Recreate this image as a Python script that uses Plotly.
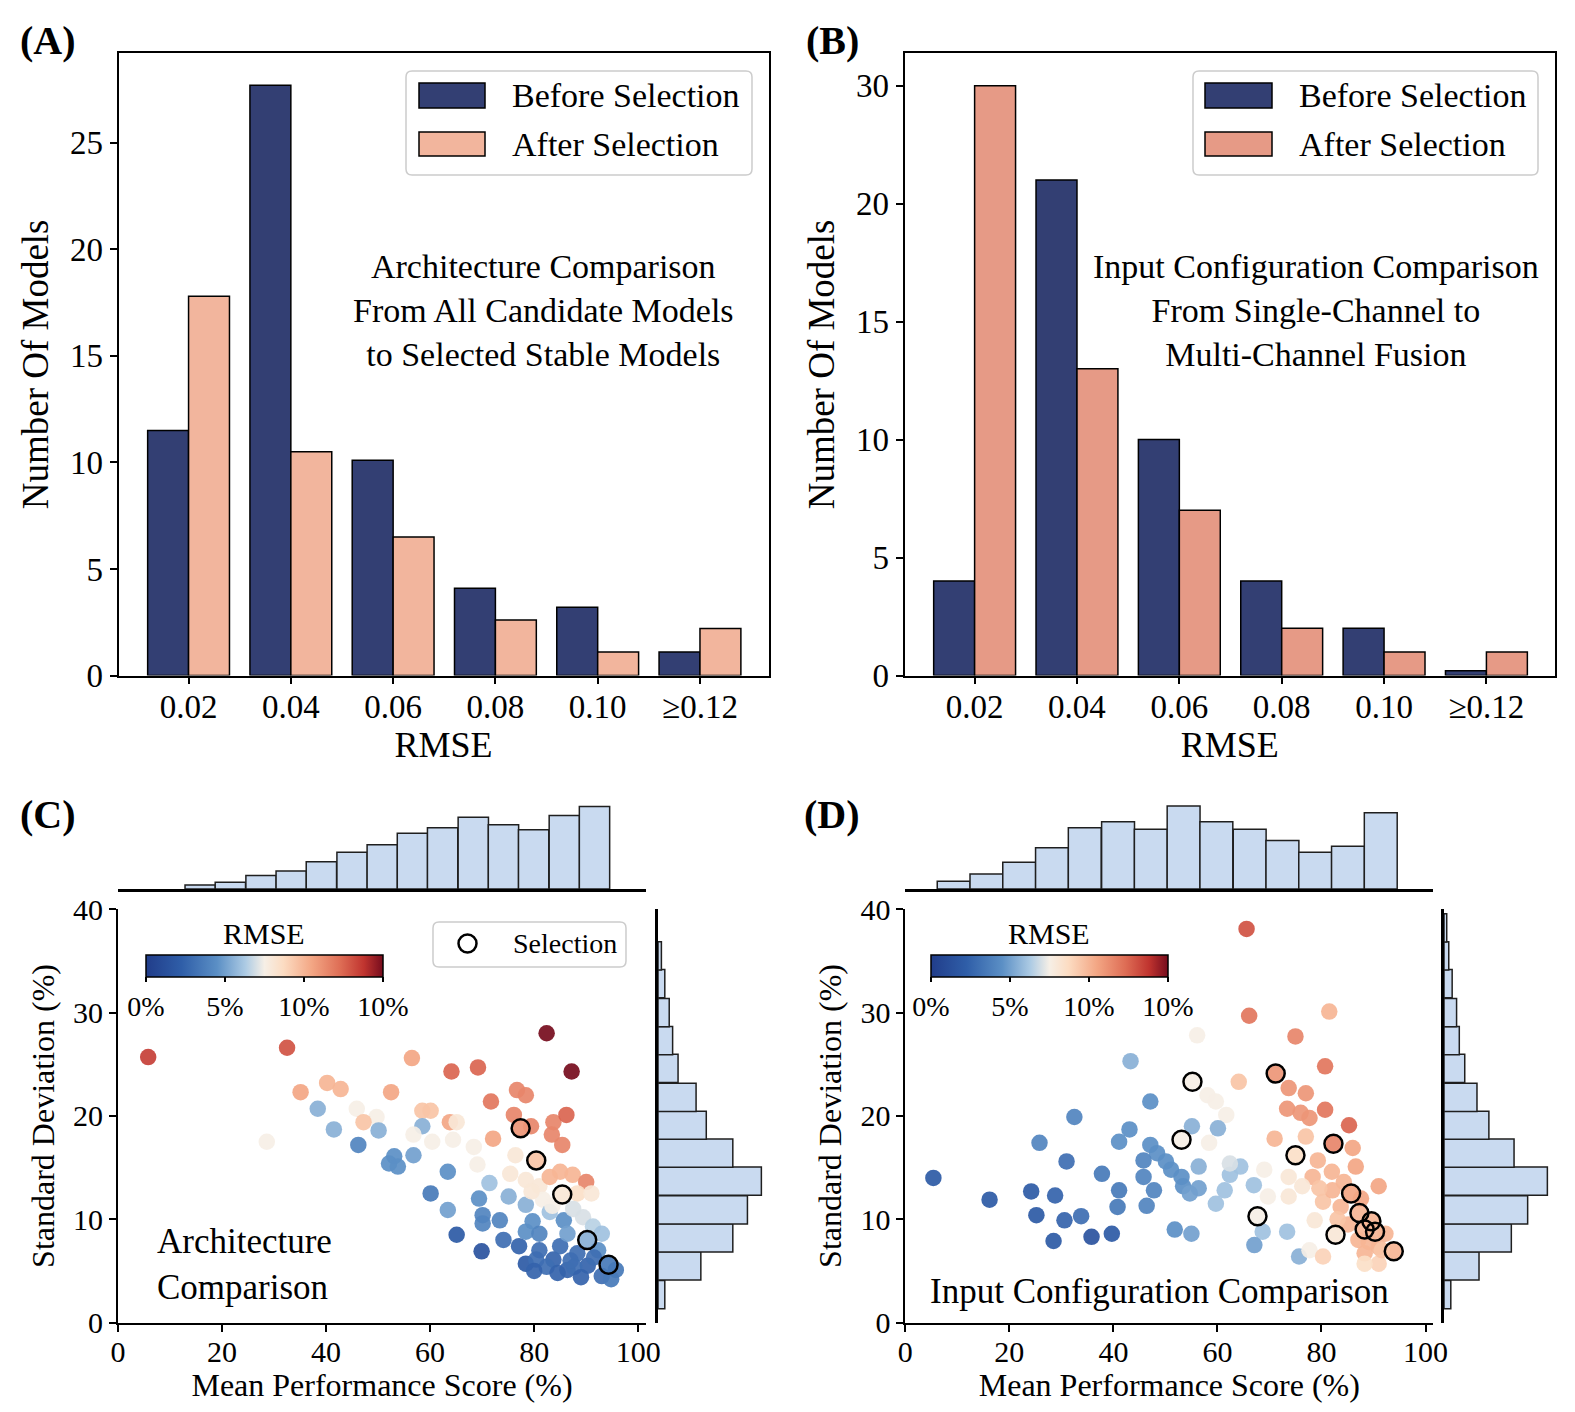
import plotly.graph_objects as go

W, H = 1575, 1412

# ---- bar charts (A, B) ----
rmse_bins = ['0.02', '0.04', '0.06', '0.08', '0.10', '≥0.12']
a_before = [11.5, 27.7, 10.1, 4.1, 3.2, 1.1]
a_after = [17.8, 10.5, 6.5, 2.6, 1.1, 2.2]
b_before = [4, 21, 10, 4, 2, 0.2]
b_after = [25, 13, 7, 2, 1, 1]
a_yticks = [0, 5, 10, 15, 20, 25]
b_ytick_vals = [0, 5, 10, 15, 20, 25]
b_ytick_text = ['0', '5', '10', '15', '20', '30']

# ---- scatter C: architecture comparison ----
c_x = [5.8, 32.5, 56.5, 64.1, 69.2, 82.4, 87.2, 35.1, 40.2, 42.8, 52.5, 38.4, 45.9, 49.7, 47.2,
       41.5, 50.1, 28.6, 46.2, 58.5, 60.1, 58.5, 63.8, 65.1, 56.8, 60.4, 64.4, 68.4, 69.1, 71.7,
       72.1, 76.7, 78.4, 76.1, 79.4, 83.7, 86.2, 83.4, 85.4, 77.4, 76.4, 80.4, 75.4, 78.4, 81.0,
       83.0, 85.0, 87.4, 90.0, 85.4, 88.3, 91.0, 81.7, 53.1, 52.1, 53.8, 56.8, 63.4, 60.1, 63.4,
       65.1, 69.9, 69.4, 71.4, 70.1, 70.1, 73.4, 74.1, 77.1, 75.1, 78.4, 79.7, 78.4, 81.0, 83.0,
       85.7, 89.4, 91.3, 90.2, 78.4, 81.0, 83.7, 86.4, 85.0, 88.3, 90.3, 93.0, 94.3, 95.7, 87.7,
       82.4, 80.4, 92.3, 86.4, 93.0, 84.5, 89.0, 91.5, 94.8, 87.0, 80.0, 83.5, 87.5, 79.5]
c_y = [25.7, 26.6, 25.6, 24.3, 24.7, 28.0, 24.3, 22.3, 23.2, 22.6, 22.3, 20.7, 20.7, 19.9, 19.4,
       18.7, 18.6, 17.5, 17.2, 20.5, 20.5, 19.0, 19.4, 19.4, 18.2, 17.5, 17.7, 17.0, 15.3, 21.4,
       17.8, 22.5, 22.0, 20.1, 19.0, 19.4, 20.1, 18.2, 17.2, 18.8, 16.2, 15.7, 14.4, 13.8, 13.2,
       14.1, 14.6, 14.3, 13.6, 12.4, 12.5, 12.5, 11.9, 16.1, 15.4, 15.1, 16.2, 14.6, 12.5, 10.9,
       8.5, 6.9, 12.0, 13.5, 10.4, 9.6, 9.9, 8.0, 7.4, 12.2, 11.4, 9.8, 8.8, 8.6, 10.7,
       9.9, 10.2, 9.3, 8.0, 5.7, 7.0, 6.1, 5.1, 7.4, 6.7, 5.5, 4.5, 5.6, 5.1, 5.4,
       5.4, 6.1, 7.0, 8.6, 8.6, 4.8, 4.4, 6.3, 4.2, 6.0, 5.0, 11.3, 11.0, 12.7]
c_rmse = [13.5, 13, 10.5, 12.5, 12.5, 15, 15, 10.5, 10, 10, 10.5, 5.5, 7.5, 7.5, 9.5,
          5.5, 5.5, 7.5, 4, 9.5, 9.5, 5.5, 10.5, 8, 7.5, 7.5, 7.5, 7.5, 7.5, 12,
          10.5, 11.5, 11.5, 11.5, 11.5, 11.5, 12.5, 11.5, 11.5, 11, 8, 9.5, 8, 8, 8,
          10, 10, 10, 11.5, 8, 8.5, 8, 7.5, 4.5, 4.5, 4.5, 5, 4.5, 3.5, 5,
          2, 1.5, 4.5, 6, 4, 4, 4, 3, 2.5, 5.5, 5.5, 4.5, 4.5, 4, 6,
          4.5, 7, 6.5, 5.5, 2, 3, 2.5, 2.5, 3, 3, 2.5, 3, 3.5, 3.5, 3,
          3, 3, 4.5, 5, 6, 2.5, 2.5, 3, 3.5, 3, 2.5, 7.5, 7, 8]
c_sel_x = [77.4, 80.4, 85.4, 90.2, 94.3]
c_sel_y = [18.8, 15.7, 12.4, 8.0, 5.6]

# ---- scatter D: input configuration comparison ----
d_x = [65.6, 66.1, 81.5, 75.0, 80.7, 56.1, 43.3, 55.2, 64.1, 71.2, 58.1, 59.7, 61.7, 47.1, 32.5,
       73.7, 77.0, 73.4, 76.0, 77.7, 80.7, 85.3, 71.0, 77.0, 82.3, 86.0, 75.0, 79.3, 86.6, 78.3,
       82.0, 84.3, 85.7, 91.0, 87.3, 89.6, 90.3, 88.3, 93.9, 82.7, 67.7, 80.3, 83.7, 92.3, 91.0,
       88.3, 91.0, 88.3, 76.3, 78.7, 73.7, 73.7, 69.0, 69.7, 67.0, 64.4, 62.4, 61.4, 59.7, 62.4,
       58.4, 56.4, 60.1, 55.1, 53.1, 68.7, 67.1, 73.4, 75.7, 77.7, 43.1, 41.1, 47.1, 48.4, 50.1,
       51.1, 53.1, 53.4, 54.7, 56.4, 45.8, 45.8, 47.8, 46.4, 41.1, 40.8, 37.8, 25.8, 31.0, 28.8,
       24.2, 25.2, 30.6, 33.8, 28.5, 35.8, 39.7, 51.8, 55.0, 16.2, 5.4, 80.3, 87.1, 85.1, 83.1,
       89.1, 91.6, 87.6, 82.1, 79.6]
d_y = [38.1, 29.7, 30.1, 27.7, 24.8, 27.8, 25.3, 23.3, 23.3, 24.1, 22.0, 21.4, 20.1, 21.4, 19.9,
       22.7, 22.2, 20.7, 20.3, 19.8, 20.6, 19.1, 17.8, 18.0, 17.3, 16.9, 16.2, 15.7, 15.1, 14.1,
       14.6, 13.6, 12.5, 13.2, 10.6, 9.8, 8.8, 9.0, 6.9, 8.5, 10.3, 11.7, 11.2, 8.6, 7.3,
       6.7, 5.7, 5.7, 13.2, 9.9, 12.2, 14.1, 14.8, 12.2, 13.3, 15.1, 14.3, 12.8, 11.5, 15.4,
       17.4, 15.1, 18.8, 19.0, 17.7, 8.8, 7.5, 8.8, 6.4, 7.0, 18.7, 17.5, 17.2, 16.4, 15.6,
       14.8, 14.1, 13.2, 12.5, 13.0, 15.7, 14.1, 12.8, 11.3, 12.8, 11.2, 14.4, 17.4, 15.6, 12.3,
       12.7, 10.4, 9.9, 10.3, 7.9, 8.3, 8.6, 9.0, 8.6, 11.9, 14.0, 6.4, 8.0, 9.5, 10.0,
       7.8, 7.0, 12.0, 12.8, 13.0]
d_rmse = [13, 12, 10, 11.5, 12, 7.5, 5.5, 7.5, 9.5, 11, 7.5, 7.5, 7.5, 4.5, 4,
          11, 11, 11, 11, 11, 12, 12.5, 10, 9.5, 11.5, 10.5, 8.5, 10, 10.5, 10,
          10, 10, 10.5, 10.5, 10, 10, 10, 10, 10, 8, 7.5, 9.5, 10, 10, 10,
          10, 9, 8.5, 8, 8, 8, 8, 7.5, 7.5, 6, 6, 6, 6, 6, 7,
          7.5, 5.5, 5.5, 5.5, 7.5, 6, 5, 6, 5.5, 7.5, 4.5, 4.5, 4.5, 4.5, 4.5,
          4.5, 4.5, 4.5, 5, 5, 4, 4, 4, 4, 3.5, 3.5, 3.5, 4, 3, 2.5,
          2, 2, 2.5, 3, 2, 1.5, 2, 4.5, 5, 2, 2, 9, 10, 10, 9.5,
          10, 9.5, 10.5, 10, 9.5]
d_sel_x = [71.2, 55.2, 82.3, 75.0, 85.7, 87.3, 89.6, 90.3, 88.3, 93.9, 82.7, 67.7, 53.1]
d_sel_y = [24.1, 23.3, 17.3, 16.2, 12.5, 10.6, 9.8, 8.8, 9.0, 6.9, 8.5, 10.3, 17.7]

# ---- marginal histograms ----
c_top_centers = [15.8, 21.6, 27.5, 33.3, 39.1, 45.0, 50.8, 56.6, 62.4, 68.3, 74.1, 79.9, 85.8, 91.6]
c_top_counts = [1.2, 2.0, 4.0, 5.3, 8.0, 10.8, 13.0, 16.4, 18.0, 21.1, 18.9, 17.4, 21.6, 24.3]
d_top_centers = [9.3, 15.6, 21.9, 28.2, 34.5, 40.9, 47.2, 53.5, 59.8, 66.2, 72.5, 78.8, 85.1, 91.4]
d_top_counts = [2.3, 4.4, 7.9, 12.1, 18.0, 19.8, 17.6, 24.4, 19.8, 17.6, 14.3, 10.8, 12.6, 22.4]
side_centers = [2.7, 5.5, 8.2, 10.9, 13.7, 16.4, 19.1, 21.8, 24.6, 27.3, 30.0, 32.8, 35.5, 38.2]
c_side_counts = [2.0, 12.6, 22.0, 26.3, 30.4, 22.0, 14.2, 11.2, 5.9, 4.3, 3.3, 2.0, 1.0]
d_side_counts = [2.0, 10.3, 19.8, 24.6, 30.4, 20.6, 13.2, 9.7, 6.1, 4.5, 3.7, 2.4, 1.4, 0.8]

NAVY = '#333f73'
A_AFTER = '#f2b59d'
B_AFTER = '#e69a86'
HIST_FILL = '#c9daf0'
FONT = 'Liberation Serif, Times New Roman, serif'
RMSE_SCALE = [[0.0, '#213d8a'], [0.15, '#2f5ea8'], [0.3, '#5b8fc5'], [0.42, '#adcbe4'],
              [0.5, '#f6efe6'], [0.58, '#fcdcc2'], [0.7, '#f3a684'], [0.82, '#de6d55'],
              [0.92, '#c0342f'], [1.0, '#760c1d']]


def px_x(p):
    return p / W


def px_y(p):
    return 1 - p / H


def axis(dom, **kw):
    d = dict(domain=dom, showline=True, linecolor='black', linewidth=1.8, ticks='outside',
             ticklen=7, tickwidth=1.5, tickcolor='black', showgrid=False, zeroline=False,
             automargin=False, tickfont=dict(size=33, color='black'))
    d.update(kw)
    return d


def hidden(dom, **kw):
    d = dict(domain=dom, visible=False, showgrid=False, zeroline=False, automargin=False)
    d.update(kw)
    return d


def cbar(left):
    # horizontal colour bar inside the scatter panel; title is drawn as an annotation
    return dict(orientation='h', x=px_x(left), xanchor='left', y=px_y(955), yanchor='top',
                lenmode='pixels', len=237, thicknessmode='pixels', thickness=22,
                xpad=0, ypad=0, outlinewidth=1.5, outlinecolor='black',
                tickvals=[0, 5, 10, 15], ticktext=['0%', '5%', '10%', '10%'],
                ticks='outside', ticklen=5, tickwidth=1.5, tickcolor='black',
                tickfont=dict(size=28, color='black'))


fig = go.Figure()

# bars
bar_line = dict(color='black', width=1.5)
fig.add_trace(go.Bar(x=rmse_bins, y=a_before, name='Before Selection', xaxis='x', yaxis='y',
                     marker=dict(color=NAVY, line=bar_line)))
fig.add_trace(go.Bar(x=rmse_bins, y=a_after, name='After Selection', xaxis='x', yaxis='y',
                     marker=dict(color=A_AFTER, line=bar_line)))
fig.add_trace(go.Bar(x=rmse_bins, y=b_before, name='Before Selection', xaxis='x2', yaxis='y2',
                     marker=dict(color=NAVY, line=bar_line)))
fig.add_trace(go.Bar(x=rmse_bins, y=b_after, name='After Selection', xaxis='x2', yaxis='y2',
                     marker=dict(color=B_AFTER, line=bar_line)))

# marginal histograms
hist_line = dict(color='#1f1f1f', width=1.5)
fig.add_trace(go.Bar(x=c_top_centers, y=c_top_counts, width=5.83, xaxis='x5', yaxis='y5',
                     marker=dict(color=HIST_FILL, line=hist_line)))
fig.add_trace(go.Bar(y=side_centers[:len(c_side_counts)], x=c_side_counts, width=2.73,
                     orientation='h', xaxis='x6', yaxis='y6',
                     marker=dict(color=HIST_FILL, line=hist_line)))
fig.add_trace(go.Bar(x=d_top_centers, y=d_top_counts, width=6.32, xaxis='x7', yaxis='y7',
                     marker=dict(color=HIST_FILL, line=hist_line)))
fig.add_trace(go.Bar(y=side_centers, x=d_side_counts, width=2.73,
                     orientation='h', xaxis='x8', yaxis='y8',
                     marker=dict(color=HIST_FILL, line=hist_line)))

# scatters
for xs, ys, cs, sx, sy, xa, ya, left in [
        (c_x, c_y, c_rmse, c_sel_x, c_sel_y, 'x3', 'y3', 146),
        (d_x, d_y, d_rmse, d_sel_x, d_sel_y, 'x4', 'y4', 931)]:
    fig.add_trace(go.Scatter(
        x=xs, y=ys, mode='markers', xaxis=xa, yaxis=ya,
        marker=dict(size=16.5, color=cs, colorscale=RMSE_SCALE, cmin=0, cmax=15,
                    opacity=0.92, line=dict(width=0), showscale=True, colorbar=cbar(left))))
    fig.add_trace(go.Scatter(
        x=sx, y=sy, mode='markers', xaxis=xa, yaxis=ya, name='Selection',
        marker=dict(size=18, color='rgba(0,0,0,0)', line=dict(color='black', width=2.5))))

# layout: axes
fig.update_layout(
    xaxis=axis([px_x(118.5), px_x(768.5)], anchor='y', type='category', range=[-0.685, 5.67],
               mirror=True, ticklabelstandoff=-6,
               title=dict(text='RMSE', font=dict(size=36), standoff=8)),
    yaxis=axis([px_y(675.5), px_y(53.3)], anchor='x', range=[0, 29.2], tickvals=a_yticks,
               mirror=True, title=dict(text='Number Of Models', font=dict(size=37), standoff=10)),
    xaxis2=axis([px_x(904.5), px_x(1555)], anchor='y2', type='category', range=[-0.685, 5.67],
                mirror=True, ticklabelstandoff=-6,
                title=dict(text='RMSE', font=dict(size=36), standoff=8)),
    yaxis2=axis([px_y(675.5), px_y(53.3)], anchor='x2', range=[0, 26.37],
                tickvals=b_ytick_vals, ticktext=b_ytick_text, mirror=True,
                title=dict(text='Number Of Models', font=dict(size=37), standoff=10)),
    xaxis3=axis([px_x(118), px_x(646)], anchor='y3', range=[0, 101.5],
                tickvals=[0, 20, 40, 60, 80, 100], tickfont=dict(size=30), ticklabelstandoff=-6,
                title=dict(text='Mean Performance Score (%)', font=dict(size=32), standoff=1)),
    yaxis3=axis([px_y(1322.6), px_y(909.3)], anchor='x3', range=[0, 40],
                tickvals=[0, 10, 20, 30, 40], tickfont=dict(size=30),
                title=dict(text='Standard Deviation (%)', font=dict(size=32), standoff=9)),
    xaxis4=axis([px_x(905.3), px_x(1433.3)], anchor='y4', range=[0, 101.5],
                tickvals=[0, 20, 40, 60, 80, 100], tickfont=dict(size=30), ticklabelstandoff=-6,
                title=dict(text='Mean Performance Score (%)', font=dict(size=32), standoff=1)),
    yaxis4=axis([px_y(1322.6), px_y(909.3)], anchor='x4', range=[0, 40],
                tickvals=[0, 10, 20, 30, 40], tickfont=dict(size=30),
                title=dict(text='Standard Deviation (%)', font=dict(size=32), standoff=9)),
    xaxis5=dict(domain=[px_x(118), px_x(646)], anchor='y5', range=[0, 101.5], showline=True,
                linecolor='black', linewidth=2.5, showticklabels=False, ticks='',
                showgrid=False, zeroline=False, automargin=False),
    yaxis5=hidden([px_y(889), px_y(803)], anchor='x5', range=[0, 25.3]),
    xaxis6=hidden([px_x(658), px_x(768)], anchor='y6', range=[0, 32.35]),
    yaxis6=dict(domain=[px_y(1322.6), px_y(909.3)], anchor='x6', range=[0, 40], showline=True,
                linecolor='black', linewidth=2.5, showticklabels=False, ticks='',
                showgrid=False, zeroline=False, automargin=False),
    xaxis7=dict(domain=[px_x(905.3), px_x(1433.3)], anchor='y7', range=[0, 101.5], showline=True,
                linecolor='black', linewidth=2.5, showticklabels=False, ticks='',
                showgrid=False, zeroline=False, automargin=False),
    yaxis7=hidden([px_y(889), px_y(803)], anchor='x7', range=[0, 25.3]),
    xaxis8=hidden([px_x(1444), px_x(1554)], anchor='y8', range=[0, 32.35]),
    yaxis8=dict(domain=[px_y(1322.6), px_y(909.3)], anchor='x8', range=[0, 40], showline=True,
                linecolor='black', linewidth=2.5, showticklabels=False, ticks='',
                showgrid=False, zeroline=False, automargin=False),
)


def rounded_box(x0, y0, x1, y1, r=6):
    pts = [(x0 + r, y0), (x1 - r, y0), (x1, y0), (x1, y0 + r), (x1, y1 - r), (x1, y1),
           (x1 - r, y1), (x0 + r, y1), (x0, y1), (x0, y1 - r), (x0, y0 + r), (x0, y0), (x0 + r, y0)]
    p = [f'{px_x(a):.5f},{px_y(b):.5f}' for a, b in pts]
    path = (f'M{p[0]} L{p[1]} Q{p[2]} {p[3]} L{p[4]} Q{p[5]} {p[6]} L{p[7]} '
            f'Q{p[8]} {p[9]} L{p[10]} Q{p[11]} {p[12]} Z')
    return dict(type='path', xref='paper', yref='paper', path=path, fillcolor='white',
                line=dict(color='#cccccc', width=1.5))


def swatch(x0, y0, x1, y1, color):
    return dict(type='rect', xref='paper', yref='paper', x0=px_x(x0), x1=px_x(x1),
                y0=px_y(y0), y1=px_y(y1), fillcolor=color, line=dict(color='black', width=1.5))


shapes = [
    rounded_box(406, 71, 752, 175),
    swatch(419, 83, 485, 108, NAVY),
    swatch(419, 132, 485, 156, A_AFTER),
    rounded_box(1193, 71, 1538, 175),
    swatch(1205, 83, 1272, 108, NAVY),
    swatch(1205, 132, 1272, 156, B_AFTER),
    rounded_box(433, 922, 626, 967),
    dict(type='circle', xref='paper', yref='paper', x0=px_x(458.5), x1=px_x(476.5),
         y0=px_y(934.5), y1=px_y(952.5), line=dict(color='black', width=2.5)),
]


def note(text, x, y, size, xanchor='center', bold=False, align='center'):
    if bold:
        text = f'<b>{text}</b>'
    return dict(text=text, x=px_x(x), y=px_y(y), xref='paper', yref='paper', showarrow=False,
                xanchor=xanchor, yanchor='middle', align=align,
                font=dict(size=size, color='black', family=FONT))


annotations = [
    note('(A)', 48, 40, 40, bold=True),
    note('(B)', 832, 40, 40, bold=True),
    note('(C)', 48, 815, 40, bold=True),
    note('(D)', 832, 815, 40, bold=True),
    note('Before Selection', 510, 96, 34, xanchor='left'),
    note('After Selection', 510, 144, 34, xanchor='left'),
    note('Before Selection', 1297, 96, 34, xanchor='left'),
    note('After Selection', 1297, 144, 34, xanchor='left'),
    note('Architecture Comparison<br>From All Candidate Models<br>to Selected Stable Models',
         543, 310, 34),
    note('Input Configuration Comparison<br>From Single-Channel to<br>Multi-Channel Fusion',
         1316, 311, 34),
    note('Architecture<br>Comparison', 155, 1264, 35, xanchor='left', align='left'),
    note('Input Configuration Comparison', 1159, 1291, 35),
    note('Selection', 511, 943, 28, xanchor='left'),
    note('RMSE', 264, 933, 30),
    note('RMSE', 1049, 933, 30),
]

fig.update_layout(
    width=W, height=H,
    margin=dict(l=0, r=0, t=0, b=0),
    paper_bgcolor='white', plot_bgcolor='white',
    font=dict(family=FONT, color='black', size=30),
    showlegend=False,
    barmode='group', bargap=0.2, bargroupgap=0,
    shapes=shapes, annotations=annotations,
)

# the page body has a default 8px margin; remove it so the figure fills the window
fig.write_html("out.html", config={'displayModeBar': False},
               post_script="document.body.style.margin='0';")
